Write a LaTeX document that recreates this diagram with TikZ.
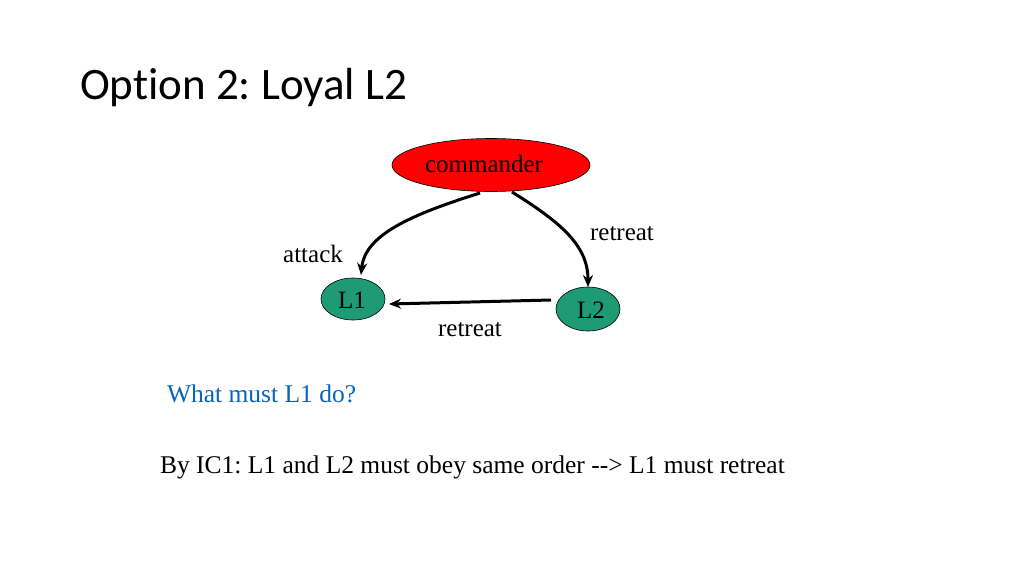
\documentclass[tikz,border=0pt]{standalone}
\usepackage{fontspec}
\setmainfont{Liberation Serif}
\newfontfamily\titlefont[Ligatures=NoCommon]{Carlito}
\usetikzlibrary{arrows.meta,shapes.geometric}
\frenchspacing
\definecolor{cmdred}{RGB}{255,0,0}
\definecolor{lgreen}{RGB}{30,155,115}
\definecolor{qblue}{RGB}{5,99,193}
\tikzset{
  every node/.style={inner sep=0pt,outer sep=0pt},
  gen/.style={ellipse,draw=black,line width=0.6pt},
  msg/.style={line width=3pt,-{Stealth[length=12pt,width=10pt]}},
  lbl/.style={font=\fontsize{25}{29}\selectfont,anchor=base},
}
\begin{document}
\begin{tikzpicture}[x=1pt,y=-1pt]
\useasboundingbox (0,0) rectangle (1024,576);
\node[anchor=base west,font=\titlefont\fontsize{45}{54}\selectfont] (title) at (80,99) {Option 2: Loyal L2};
\node[gen,fill=cmdred,minimum width=198pt,minimum height=53pt] (cmd) at (491,165) {};
\node[anchor=base] (cmdt) at (484,172) {\fontsize{25}{29}\selectfont commander};
\node[gen,fill=lgreen,minimum width=64pt,minimum height=42pt] (l1) at (353,299) {};
\node[anchor=base] (l1t) at (352,308) {\fontsize{25}{29}\selectfont L1};
\node[gen,fill=lgreen,minimum width=64pt,minimum height=44pt] (l2) at (588,309) {};
\node[anchor=base] (l2t) at (591,318) {\fontsize{25}{29}\selectfont L2};
\coordinate (c1) at (480,193);
\coordinate (c2) at (512,192);
\coordinate (l1top) at (361,275);
\coordinate (l2top) at (588,287);
\coordinate (l2left) at (551,300);
\coordinate (l1right) at (389,304);
\draw[msg] (c1) .. controls (410,215) and (365,235) .. (l1top);
\draw[msg] (c2) .. controls (560,222) and (588,245) .. (l2top);
\draw[msg] (l2left) -- (l1right);
\node[lbl] (attack) at (313,262) {attack};
\node[lbl] (ret1) at (622,240) {retreat};
\node[lbl] (ret2) at (470,336) {retreat};
\node[anchor=base west,font=\fontsize{25.5}{30}\selectfont,text=qblue] (q) at (167,402) {What must L1 do?};
\node[anchor=base west,font=\fontsize{25.5}{30}\selectfont] (ans) at (160,473) {By IC1: L1 and L2 must obey same order -{}-> L1 must retreat};
\end{tikzpicture}
\end{document}
